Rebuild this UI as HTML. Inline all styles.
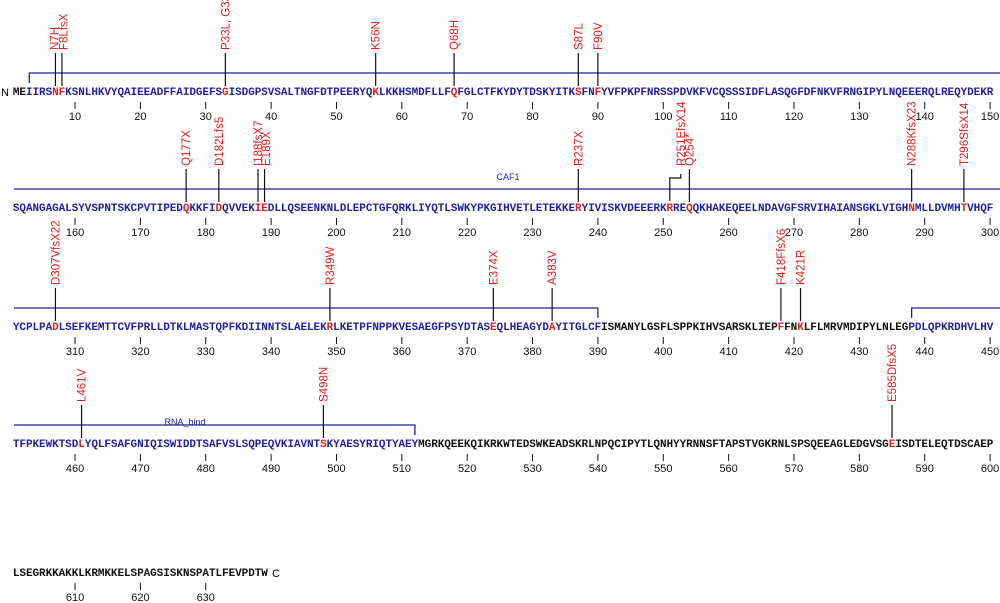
<!DOCTYPE html>
<html><head><meta charset="utf-8">
<style>
html,body{margin:0;padding:0;background:#fff;}
svg{display:block;}
.seq{font-family:"Liberation Mono",monospace;font-weight:bold;font-size:11px;}
.num{font-family:"Liberation Sans",sans-serif;font-size:11px;fill:#111;}
.mut{font-family:"Liberation Sans",sans-serif;font-size:11.5px;fill:#e02020;}
.dom{font-family:"Liberation Sans",sans-serif;font-size:9px;fill:#22229a;}
</style></head>
<body>
<svg id="chart" width="1000" height="603" viewBox="0 0 1000 603" xmlns="http://www.w3.org/2000/svg">
<text x="1" y="96" font-family="Liberation Sans, sans-serif" font-size="11">N</text>
<text x="272" y="577" font-family="Liberation Sans, sans-serif" font-size="11">C</text>
</svg>
<script>
const sequence = "MEIIRSNFKSNLHKVYQAIEEADFFAIDGEFSGISDGPSVSALTNGFDTPEERYQKLKKHSMDFLLFQFGLCTFKYDYTDSKYITKSFNFYVFPKPFNRSSPDVKFVCQSSSIDFLASQGFDFNKVFRNGIPYLNQEEERQLREQYDEKR" +
"SQANGAGALSYVSPNTSKCPVTIPEDQKKFIDQVVEKIEDLLQSEENKNLDLEPCTGFQRKLIYQTLSWKYPKGIHVETLETEKKERYIVISKVDEEERKRREQQKHAKEQEELNDAVGFSRVIHAIANSGKLVIGHNMLLDVMHTVHQF" +
"YCPLPADLSEFKEMTTCVFPRLLDTKLMASTQPFKDIINNTSLAELEKRLKETPFNPPKVESAEGFPSYDTASEQLHEAGYDAYITGLCFISMANYLGSFLSPPKIHVSARSKLIEPFFNKLFLMRVMDIPYLNLEGPDLQPKRDHVLHV" +
"TFPKEWKTSDLYQLFSAFGNIQISWIDDTSAFVSLSQPEQVKIAVNTSKYAESYRIQTYAEYMGRKQEEKQIKRKWTEDSWKEADSKRLNPQCIPYTLQNHYYRNNSFTAPSTVGKRNLSPSQEEAGLEDGVSGEISDTELEQTDSCAEP" +
"LSEGRKKAKKLKRMKKELSPAGSISKNSPATLFEVPDTW";
const mutPositions = [7,8,33,56,68,87,90,177,182,188,189,237,251,254,288,296,307,349,374,383,418,421,461,498,585];
const mutLabels = ["N7H","F8LfsX","P33L, G33V","K56N","Q68H","S87L","F90V","Q177X","D182Lfs5","I188fsX7","E189X","R237X","R251EfsX14","Q254*","N288KfsX23","T296SfsX14","D307VfsX22","R349W","E374X","A383V","F418FfsX6","K421R","L461V","S498N","E585DfsX5"];
const domainNames = ["CAF1","RNA_bind"];
const domainStarts = [3,438];
const domainEnds = [390,512];
const rowCenters = [91,207,326,443,572];
const perRow = 150;
const svg = document.getElementById('chart');
const NS = "http://www.w3.org/2000/svg";
const step = 6.536, x0 = 16.2;
function xOf(p){ return x0 + ((p-1)%perRow)*step; }
function rowOf(p){ return Math.floor((p-1)/perRow); }
function yOf(p){ return rowCenters[rowOf(p)]; }
function el(tag, attrs){ const e=document.createElementNS(NS,tag); for(const k in attrs) e.setAttribute(k,attrs[k]); svg.appendChild(e); return e; }
function inDomain(p){ for(let i=0;i<domainStarts.length;i++){ if(p>=domainStarts[i]&&p<=domainEnds[i]) return true;} return false; }
const blue="#22229a", red="#e02020", dcol="#1f1f8f";
for(let d=0; d<domainStarts.length; d++){
  const s=domainStarts[d], e=domainEnds[d];
  for(let r=rowOf(s); r<=rowOf(e); r++){
    const rs=Math.max(s,r*perRow+1), re=Math.min(e,(r+1)*perRow);
    const y=rowCenters[r]-18;
    const xa = rs===s ? xOf(rs) : 14;
    const xb = re===e ? xOf(re) : 1000;
    let dpath = (rs===s ? `M${xa},${y+10} V${y}` : `M${xa},${y}`) + ` H${xb}` + (re===e ? ` V${y+10}` : '');
    const p=el('path',{d:dpath,fill:'none',stroke:dcol,'stroke-width':1.3});
    
    
  }
}
const cafLbl = el('text',{x:508,y:180,'text-anchor':'middle',class:'dom'}); cafLbl.textContent="CAF1";


const rnaLbl = el('text',{x:185,y:425,'text-anchor':'middle',class:'dom'}); rnaLbl.textContent="RNA_bind";


for(let i=0;i<sequence.length;i++){
  const p=i+1;
  const t=el('text',{x:xOf(p).toFixed(2),y:yOf(p)+4,'text-anchor':'middle',class:'seq',fill: mutPositions.includes(p)?red:(inDomain(p)?blue:'#111')});
  t.textContent=sequence[i];
  
  
}
for(let p=10;p<=sequence.length;p+=10){
  const x=xOf(p), y=yOf(p);
  const l=el('line',{x1:x,x2:x,y1:y+11,y2:y+18,stroke:'#111','stroke-width':1});
  
  
  const t=el('text',{x:x,y:y+29,'text-anchor':'middle',class:'num'}); t.textContent=p;
  
  
}
for(let i=0;i<mutPositions.length;i++){
  const p=mutPositions[i], x=xOf(p), y=yOf(p);
  let lx=x;
  if(p===7) lx=x-1; if(p===8) lx=x+1.5; if(p===189) lx=x+1.5;
  if(p===251){
    lx=x+11;
    const b=el('path',{d:`M${x},${y-6} V${y-29} H${lx} V${y-33}`,fill:'none',stroke:'#111','stroke-width':1.2});
    
    
  } else {
    const l=el('line',{x1:x,x2:x,y1:y-5,y2:y-38,stroke:'#111','stroke-width':1.2});
    
    
  }
  const t=el('text',{x:0,y:0,class:'mut',transform:`translate(${(lx+4).toFixed(1)},${y-41}) rotate(-90)`});
  t.textContent=mutLabels[i];
  
  
}
</script>
</body></html>
